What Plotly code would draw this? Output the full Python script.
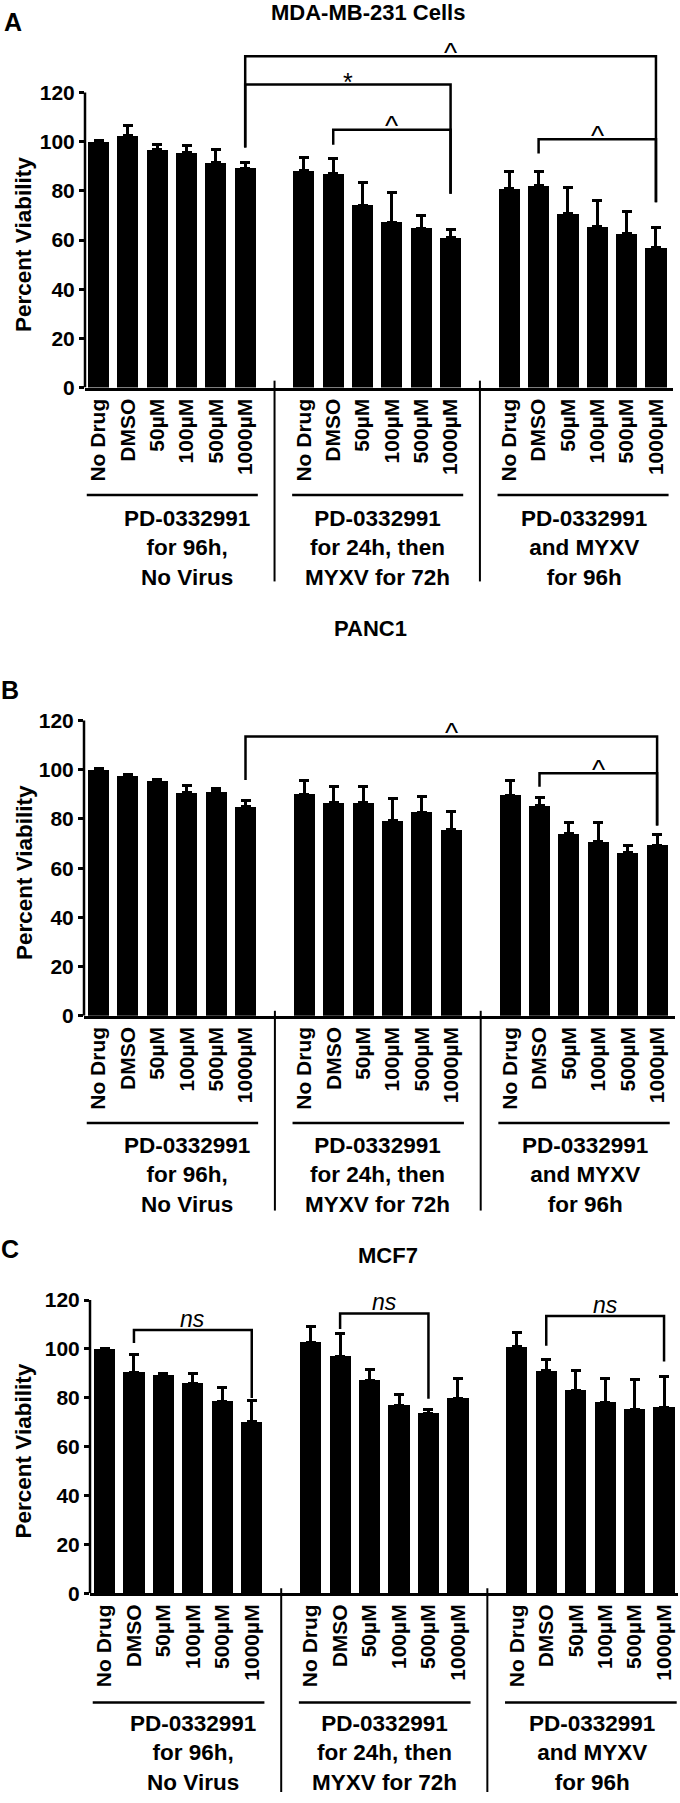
import plotly.graph_objects as go

W, H = 680, 1803
FONT = "Liberation Sans, Arial, Helvetica, sans-serif"

# ---------------- data ----------------
conditions = ["No Drug", "DMSO", "50µM", "100µM", "500µM", "1000µM"]
treatments = ["PD-0332991<br>for 96h,<br>No Virus",
              "PD-0332991<br>for 24h, then<br>MYXV for 72h",
              "PD-0332991<br>and MYXV<br>for 96h"]
y_ticks = [0, 20, 40, 60, 80, 100, 120]

titles = ["MDA-MB-231 Cells", "PANC1", "MCF7"]
letters = ["A", "B", "C"]

mda_mean = [100.0, 102.4, 96.7, 95.6, 91.4, 89.2,
            88.1, 86.9, 74.2, 67.3, 64.8, 61.1,
            80.8, 82.2, 70.8, 65.3, 62.6, 57.0]
mda_err = [0.5, 4.3, 2.0, 3.0, 5.4, 2.4,
           5.6, 6.4, 9.2, 12.2, 5.1, 3.1,
           7.0, 5.6, 10.4, 10.8, 9.2, 8.2]

panc_mean = [100.0, 97.5, 95.4, 90.8, 91.0, 85.1,
             90.1, 86.6, 86.6, 79.2, 82.8, 75.7,
             89.7, 85.4, 73.9, 70.8, 66.4, 69.4]
panc_err = [0.4, 0.4, 0.8, 2.9, 1.4, 2.4,
            5.4, 6.6, 6.6, 9.2, 6.4, 7.4,
            6.1, 3.4, 4.8, 7.9, 2.8, 4.1]

mcf_mean = [100.0, 90.3, 89.4, 85.8, 78.5, 70.2,
            102.6, 96.9, 87.1, 76.9, 73.5, 79.9,
            100.9, 91.0, 83.1, 78.1, 75.3, 76.1]
mcf_err = [0.0, 7.2, 0.4, 4.0, 5.9, 8.7,
           6.4, 9.4, 4.6, 4.3, 1.6, 7.8,
           6.0, 4.8, 8.0, 9.9, 12.0, 12.6]

# significance brackets: (bar from, bar to, bracket level, left leg end, right leg end, label)
mda_brackets = [(5, 17, 134.7, 97.6, 75.4, "^"),
                (5, 11, 123.2, 97.6, 78.8, "*"),
                (7, 11, 104.8, 98.7, 78.8, "^"),
                (13, 17, 101.0, 95.2, 75.4, "^")]
panc_brackets = [(5, 17, 113.5, 95.8, 77.3, "^"),
                 (13, 17, 98.6, 93.1, 77.3, "^")]
mcf_brackets = [(1, 5, 107.7, 102.4, 79.9, "ns"),
                (7, 10, 114.5, 108.1, 79.6, "ns"),
                (13, 17, 113.5, 101.3, 94.8, "ns")]

# ---------------- layout (pixel geometry) ----------------
panels = [
    dict(mean=mda_mean, err=mda_err, brackets=mda_brackets,
         px_zero=390, px_120=93, px_top=36, x_left=85, x_right=673, slot0=98.5, slot_px=29.34,
         title_xy=(368, 12.5), letter_xy=(13, 22), sep=(383, 585), underline_y=498, text_y=551),
    dict(mean=panc_mean, err=panc_err, brackets=panc_brackets,
         px_zero=1022, px_120=725, px_top=700, x_left=84, x_right=675, slot0=98.5, slot_px=29.4,
         title_xy=(371, 632), letter_xy=(10, 694), sep=(1017, 1218), underline_y=1130, text_y=1182),
    dict(mean=mcf_mean, err=mcf_err, brackets=mcf_brackets,
         px_zero=1603, px_120=1308, px_top=1285, x_left=90, x_right=678, slot0=104.5, slot_px=29.45,
         title_xy=(388, 1263), letter_xy=(10, 1257), sep=(1598, 1803), underline_y=1713, text_y=1764),
]
text_offsets = [3.0, 2.5, 2.55]
label_style = {"^": dict(size=28, shift=4, italic=False),
               "*": dict(size=25, shift=3, italic=False),
               "ns": dict(size=23, shift=11, italic=True)}


def py(px):
    return 1 - px / H


fig = go.Figure()
shapes, annotations = [], []
layout_axes = {}

for k, p in enumerate(panels, start=1):
    xa = "x" if k == 1 else f"x{k}"
    ya = "y" if k == 1 else f"y{k}"
    ppu = (p["px_zero"] - p["px_120"]) / 120.0
    y_max = (p["px_zero"] - p["px_top"]) / ppu
    x_rng = [(p["x_left"] - p["slot0"]) / p["slot_px"], (p["x_right"] - p["slot0"]) / p["slot_px"]]

    slots = [g * 7 + i for g in range(3) for i in range(6)]

    fig.add_trace(go.Bar(
        x=slots, y=p["mean"], width=0.72, xaxis=xa, yaxis=ya,
        marker=dict(color="black", line=dict(width=0)),
        error_y=dict(type="data", array=p["err"], arrayminus=[0] * 18, symmetric=False,
                     color="black", thickness=3, width=5),
        showlegend=False, hoverinfo="skip"))

    xkey = "xaxis" if k == 1 else f"xaxis{k}"
    ykey = "yaxis" if k == 1 else f"yaxis{k}"
    layout_axes[xkey] = dict(
        domain=[p["x_left"] / W, p["x_right"] / W], range=x_rng, anchor=ya,
        tickvals=slots, ticktext=conditions * 3, tickangle=-90, ticks="",
        tickfont=dict(family=FONT, size=21, color="black", weight="bold"),
        showline=True, linecolor="black", linewidth=2.5, showgrid=False, zeroline=False,
        fixedrange=True)
    layout_axes[ykey] = dict(
        domain=[py(p["px_zero"]), py(p["px_top"])], range=[0, y_max], anchor=xa,
        tickvals=y_ticks, ticktext=[str(v) for v in y_ticks], ticks="outside",
        ticklen=5, tickwidth=2.5, tickcolor="black",
        tickfont=dict(family=FONT, size=21, color="black", weight="bold"),
        showline=False, showgrid=False, zeroline=False, fixedrange=True)

    # y axis line only up to 120
    shapes.append(dict(type="line", xref="paper", yref=ya,
                       x0=p["x_left"] / W, x1=p["x_left"] / W, y0=0, y1=120,
                       line=dict(color="black", width=2.5)))

    # significance brackets
    for (b0, b1, lvl, e0, e1, lab) in p["brackets"]:
        s0, s1 = slots[b0], slots[b1]
        path = f"M {s0} {e0} L {s0} {lvl} L {s1} {lvl} L {s1} {e1}"
        shapes.append(dict(type="path", path=path, xref=xa, yref=ya,
                           line=dict(color="black", width=2.5)))
        st = label_style[lab]
        annotations.append(dict(
            x=(s0 + s1) / 2, y=lvl, xref=xa, yref=ya, text=lab, showarrow=False,
            xanchor="center", yanchor="middle", yshift=st["shift"],
            font=dict(family=FONT, size=st["size"], color="black",
                      style="italic" if st["italic"] else "normal")))

    # group separators, underlines and treatment labels
    for g in range(1, 3):
        shapes.append(dict(type="line", xref=xa, yref="paper",
                           x0=g * 7 - 1, x1=g * 7 - 1, y0=py(p["sep"][0]), y1=py(p["sep"][1]),
                           line=dict(color="black", width=2)))
    for g in range(3):
        shapes.append(dict(type="line", xref=xa, yref="paper",
                           x0=g * 7 - 0.4, x1=g * 7 + 5.43,
                           y0=py(p["underline_y"]), y1=py(p["underline_y"]),
                           line=dict(color="black", width=2.5)))
        annotations.append(dict(
            x=g * 7 + text_offsets[g], y=py(p["text_y"]), xref=xa, yref="paper",
            text=treatments[g], showarrow=False, align="center",
            xanchor="center", yanchor="middle",
            font=dict(family=FONT, size=22.5, color="black", weight="bold")))

    # y axis title
    annotations.append(dict(
        x=24 / W, y=58, xref="paper", yref=ya, text="Percent Viability", textangle=-90,
        showarrow=False, xanchor="center", yanchor="middle",
        font=dict(family=FONT, size=22.5, color="black", weight="bold")))
    # panel title and letter
    annotations.append(dict(
        x=p["title_xy"][0] / W, y=py(p["title_xy"][1]), xref="paper", yref="paper",
        text=titles[k - 1], showarrow=False, xanchor="center", yanchor="middle",
        font=dict(family=FONT, size=22, color="black", weight="bold")))
    annotations.append(dict(
        x=p["letter_xy"][0] / W, y=py(p["letter_xy"][1]), xref="paper", yref="paper",
        text=letters[k - 1], showarrow=False, xanchor="center", yanchor="middle",
        font=dict(family=FONT, size=25, color="black", weight="bold")))

fig.update_layout(
    width=W, height=H, margin=dict(l=0, r=0, t=0, b=0),
    paper_bgcolor="white", plot_bgcolor="white",
    bargap=0, showlegend=False,
    shapes=shapes, annotations=annotations,
    **layout_axes)

fig.write_html("out.html", config={"displayModeBar": False},
               post_script="document.body.style.margin='0';document.body.style.padding='0';"
                           "document.body.style.overflow='hidden';")
